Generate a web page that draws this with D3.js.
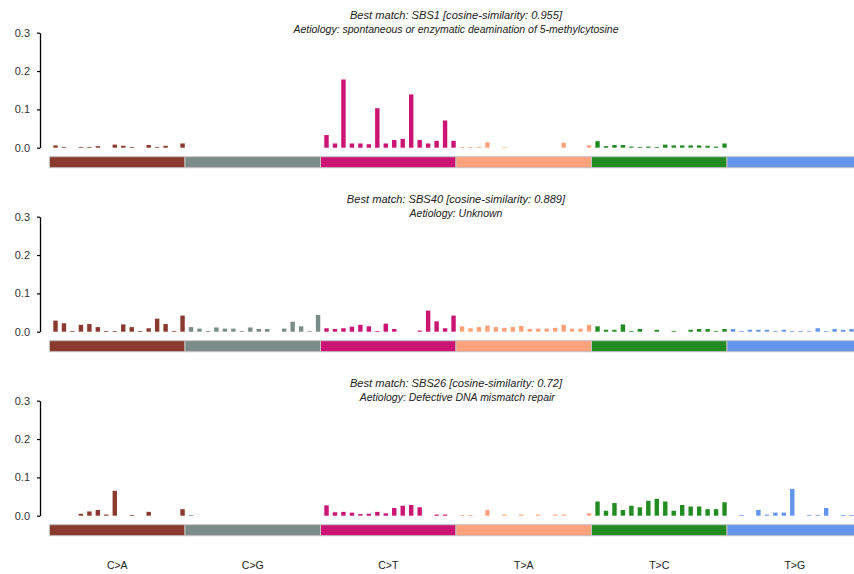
<!DOCTYPE html>
<html>
<head>
<meta charset="utf-8">
<script src="https://cdn.jsdelivr.net/npm/d3@7"></script>
<style>
  html, body { margin: 0; padding: 0; background: #fff; }
  svg { display: block; font-family: "Liberation Sans", Arial, sans-serif; }
</style>
</head>
<body>
<svg id="chart" width="854" height="574"></svg>
<script>
// Mutation classes and their strip colours
const mutationTypes = ["C>A", "C>G", "C>T", "T>A", "T>C", "T>G"];
const typeColors = ["#8B3A2F", "#7B8B88", "#CC1474", "#FFA27B", "#228B22", "#6495ED"];
const bases = ["A", "C", "G", "T"];

// 96 trinucleotide contexts, in the usual order
const contexts = [];
mutationTypes.forEach(t => bases.forEach(l => bases.forEach(r => contexts.push(`${l}[${t}]${r}`))));

// Signature profiles (relative contribution per context), one row per mutation class
const sbs1Profile = [
  0.006, 0.002, 0, 0.002, 0.002, 0.004, 0, 0.008, 0.005, 0.002, 0, 0.007, 0.002, 0.005, 0, 0.011,
  0, 0, 0, 0, 0, 0, 0, 0, 0, 0, 0, 0, 0, 0, 0, 0,
  0.033, 0.011, 0.178, 0.011, 0.011, 0.009, 0.103, 0.011, 0.020, 0.023, 0.139, 0.020, 0.011, 0.018, 0.071, 0.018,
  0.002, 0.002, 0.002, 0.014, 0, 0.0015, 0, 0, 0, 0, 0, 0, 0.013, 0, 0, 0.006,
  0.017, 0.004, 0.007, 0.007, 0.003, 0.002, 0.003, 0.002, 0.008, 0.006, 0.006, 0.006, 0.006, 0.005, 0.003, 0.011,
  0, 0, 0, 0, 0, 0, 0, 0, 0, 0, 0, 0, 0, 0, 0, 0
];
const sbs40Profile = [
  0.029, 0.022, 0.002, 0.018, 0.020, 0.012, 0.002, 0.002, 0.019, 0.012, 0.002, 0.009, 0.034, 0.020, 0.002, 0.042,
  0.012, 0.008, 0.002, 0.011, 0.008, 0.008, 0.002, 0.011, 0.007, 0.007, 0, 0.008, 0.026, 0.014, 0.002, 0.044,
  0.009, 0.007, 0.009, 0.013, 0.018, 0.014, 0.002, 0.021, 0.007, 0, 0, 0.003, 0.055, 0.027, 0.009, 0.042,
  0.014, 0.009, 0.012, 0.016, 0.012, 0.010, 0.012, 0.015, 0.007, 0.008, 0.008, 0.010, 0.018, 0.008, 0.008, 0.018,
  0.014, 0.005, 0.005, 0.019, 0.002, 0.007, 0, 0.005, 0, 0.002, 0, 0.005, 0.007, 0.007, 0.002, 0.007,
  0.007, 0.002, 0.005, 0.005, 0.005, 0.002, 0.005, 0.002, 0.002, 0.002, 0.009, 0.002, 0.007, 0.005, 0.007, 0.005
];
const sbs26Profile = [
  0, 0, 0, 0.005, 0.011, 0.015, 0.003, 0.065, 0, 0.002, 0, 0.010, 0, 0, 0, 0.017,
  0.002, 0, 0, 0, 0, 0, 0, 0, 0, 0, 0, 0, 0, 0, 0, 0,
  0.027, 0.009, 0.010, 0.008, 0.004, 0.005, 0.010, 0.006, 0.020, 0.026, 0.028, 0.022, 0, 0.003, 0.003, 0,
  0.002, 0.002, 0, 0.015, 0, 0.003, 0, 0.003, 0, 0.003, 0, 0.003, 0.003, 0, 0, 0.006,
  0.037, 0.013, 0.033, 0.015, 0.026, 0.022, 0.039, 0.044, 0.037, 0.013, 0.028, 0.024, 0.024, 0.017, 0.017, 0.035,
  0, 0.002, 0, 0.015, 0.003, 0.008, 0.008, 0.070, 0, 0.002, 0.002, 0.020, 0, 0.002, 0.002, 0.002
];

const profiles = [sbs1Profile, sbs40Profile, sbs26Profile];
const matchLines = [
  "Best match: SBS1 [cosine-similarity: 0.955]",
  "Best match: SBS40 [cosine-similarity: 0.889]",
  "Best match: SBS26 [cosine-similarity: 0.72]"
];
const aetiologyLines = [
  "Aetiology: spontaneous or enzymatic deamination of 5-methylcytosine",
  "Aetiology: Unknown",
  " Aetiology: Defective DNA mismatch repair"
];
const yTicks = [0, 0.1, 0.2, 0.3];

const svg = d3.select("#chart");

// Horizontal layout shared by every panel (the last class runs past the right edge)
const left = 49.5, right = 862.5;
const x = d3.scaleBand().domain(d3.range(contexts.length)).range([left, right]).padding(0);
const xType = d3.scaleBand().domain(mutationTypes).range([left, right]).padding(0);
const colorOf = d3.scaleOrdinal().domain(mutationTypes).range(typeColors);
const typeOfIndex = i => mutationTypes[Math.floor(i / 16)];

const panelStep = 184;
const baseTop = 32.7, baseZero = 147.7;

profiles.forEach((values, p) => {
  const off = p * panelStep;
  const g = svg.append("g");
  const y = d3.scaleLinear().domain([0, 0.3]).range([baseZero + off, baseTop + off]);

  // two-line title
  g.append("text")
    .attr("x", (left + right) / 2)
    .attr("y", 18.8 + off)
    .attr("text-anchor", "middle")
    .attr("font-style", "italic")
    .attr("font-size", 11.1)
    .attr("fill", "#222")
    .text(matchLines[p]);
  g.append("text")
    .attr("x", (left + right) / 2)
    .attr("y", 32.6 + off)
    .attr("text-anchor", "middle")
    .attr("font-style", "italic")
    .attr("font-size", 10.5)
    .attr("fill", "#222")
    .attr("xml:space", "preserve")
    .text(aetiologyLines[p]);

  // y axis
  const axis = g.append("g")
    .attr("transform", "translate(40,0)")
    .call(d3.axisLeft(y).tickValues(yTicks).tickFormat(d3.format(".1f")).tickSize(3).tickPadding(7).tickSizeOuter(0));
  axis.select(".domain").attr("stroke", "#000").attr("stroke-width", 1.3);
  axis.selectAll(".tick line").attr("stroke", "#000").attr("stroke-width", 1.2);
  axis.selectAll(".tick text")
    .attr("font-size", 11)
    .attr("fill", "#333")
    .attr("font-family", "\"Liberation Sans\", Arial, sans-serif");

  // bars
  const bw = x.bandwidth();
  g.append("g").selectAll("rect")
    .data(values.map((v, i) => ({ v, i })).filter(d => d.v > 0))
    .join("rect")
    .attr("x", d => x(d.i) + bw * 0.45)
    .attr("width", bw * 0.52)
    .attr("y", d => y(d.v))
    .attr("height", d => y(0) - y(d.v))
    .attr("fill", d => colorOf(typeOfIndex(d.i)));

  // mutation-class strip
  g.append("g").selectAll("rect")
    .data(mutationTypes)
    .join("rect")
    .attr("x", d => xType(d))
    .attr("width", xType.bandwidth())
    .attr("y", y(0) + 9)
    .attr("height", 11)
    .attr("fill", d => colorOf(d))
    .attr("stroke", "#c4c4c4")
    .attr("stroke-width", 1);
});

// class labels under the last panel
svg.append("g").selectAll("text")
  .data(mutationTypes)
  .join("text")
  .attr("x", d => xType(d) + xType.bandwidth() / 2)
  .attr("y", 569)
  .attr("text-anchor", "middle")
  .attr("font-size", 10.5)
  .attr("fill", "#222")
  .text(d => d);
</script>
</body>
</html>
